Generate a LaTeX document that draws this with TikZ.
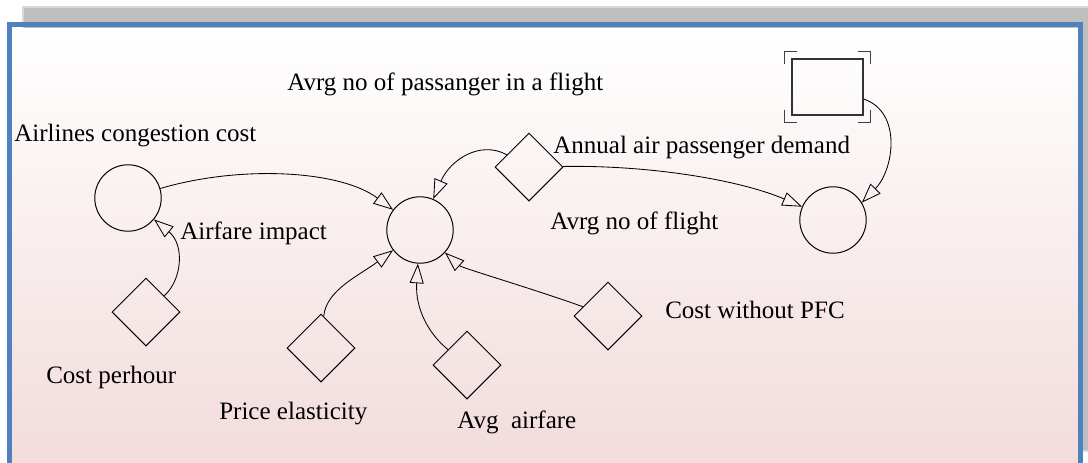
\documentclass[tikz,border=0pt]{standalone}
\usepackage{fontspec}
\setmainfont{Liberation Serif}
\usetikzlibrary{arrows.meta,shapes.geometric}
\definecolor{framebl}{HTML}{4F81BD}
\definecolor{pinkbot}{HTML}{F2DBDB}
\begin{document}
\begin{tikzpicture}[x=0.025cm, y=-0.025cm,
  aux/.style={circle, draw, line width=0.7pt, minimum size=1.66cm, inner sep=0pt},
  const/.style={diamond, draw, line width=0.7pt, minimum size=1.7cm, inner sep=0pt},
  lvl/.style={rectangle, draw=black!80, line width=0.8pt, minimum width=1.775cm, minimum height=1.4cm, inner sep=0pt},
  lbl/.style={anchor=base west, inner sep=0pt, font=\fontsize{17.8}{20}\selectfont},
  link/.style={-{Triangle[open, length=14pt, width=10pt]}, line width=0.6pt},
  bracket/.style={draw=black!75, line width=1pt}]
\useasboundingbox (0,0) rectangle (1088,462);
\clip (0,0) rectangle (1088,462);
% frame
\fill[gray!50, draw=gray!30, line width=0.8pt] (23,7) rectangle (1095,451);
\shade[top color=white, bottom color=pinkbot] (12,28) rectangle (1078,470);
\draw[framebl, line width=3.9pt] (9.75,24.75) rectangle (1080.25,480);
% variables
\node (cong) at (128,198) [aux] {};
\node (impact) at (420,230) [aux] {};
\node (flights) at (833,220) [aux] {};
\node (pass) at (827.5,87) [lvl] {};
\node (cph) at (146,312) [const] {};
\node (pel) at (321,348) [const] {};
\node (avf) at (467,365) [const] {};
\node (cwp) at (608,316) [const] {};
\node (demand) at (529,167) [const] {};
% corner marks of the stock
\draw[bracket] ([shift={(6,-7)}]pass.north west) -- ++(-13,0) -- ++(0,13);
\draw[bracket] ([shift={(-6,-7)}]pass.north east) -- ++(13,0) -- ++(0,13);
\draw[bracket] ([shift={(6,7)}]pass.south west) -- ++(-13,0) -- ++(0,-13);
\draw[bracket] ([shift={(-6,7)}]pass.south east) -- ++(13,0) -- ++(0,-13);
% labels
\node (lcong) at (14,141) [lbl] {Airlines congestion cost};
\node (limpact) at (180,239) [lbl] {Airfare impact};
\node (lpass) at (287,90) [lbl] {Avrg no of passanger in a flight};
\node (ldemand) at (553,153) [lbl] {Annual air passenger demand};
\node (lflights) at (550,229) [lbl] {Avrg no of flight};
\node (lcph) at (46,383) [lbl] {Cost perhour};
\node (lpel) at (219,419) [lbl] {Price elasticity};
\node (lavf) at (457,428) [lbl] {Avg\ \ airfare};
\node (lcwp) at (665,318) [lbl] {Cost without PFC};
% links
\draw[link] (cong) .. controls +(112,-33) and +(-80,-60) .. (impact);
\draw[link] (cph) .. controls +(36,-32) and +(57,47) .. (cong);
\draw[link] (pel) .. controls +(5,-58) and +(-60,45) .. (impact);
\draw[link] (avf) .. controls +(-37,-30) and +(-5,80) .. (impact);
\draw[link] (cwp) .. controls +(-68,-25) and +(42,38) .. (impact);
\draw[link] (demand) .. controls +(-49,-27) and +(30,-70) .. (impact);
\draw[link] (demand) .. controls +(121,-2) and +(-93,-40) .. (flights);
\draw[link] (pass) .. controls +(75,25) and +(32,-33) .. (flights.31);
\end{tikzpicture}
\end{document}
